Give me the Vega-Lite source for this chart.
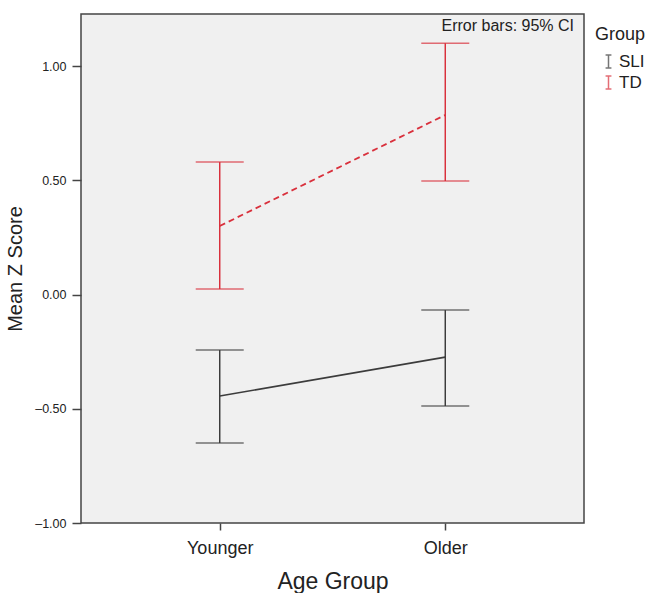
{
  "$schema": "https://vega.github.io/schema/vega-lite/v6.json",
  "autosize": {"type": "none"},
  "padding": {"left": 81, "top": 14, "right": 65, "bottom": 70},
  "width": 503,
  "height": 509,
  "background": "white",
  "config": {
    "font": "Liberation Sans",
    "view": {"fill": "#f0f0f0", "stroke": "#444444", "strokeWidth": 1.5},
    "axis": {"domain": false, "grid": false, "tickColor": "#444444", "tickWidth": 1.5, "labelColor": "#222222", "titleColor": "#222222", "titleFontWeight": "normal"}
  },
  "title": {"text": "Error bars: 95% CI", "anchor": "end", "frame": "group", "orient": "top", "offset": -20, "dx": -10, "fontSize": 16, "fontWeight": "normal", "color": "#222222", "font": "Liberation Sans"},
  "data": {"values": [
    {"age": "Younger", "group": "SLI", "mean": -0.444, "lo": -0.650, "hi": -0.243},
    {"age": "Older", "group": "SLI", "mean": -0.274, "lo": -0.488, "hi": -0.068},
    {"age": "Younger", "group": "TD", "mean": 0.30, "lo": 0.024, "hi": 0.580},
    {"age": "Older", "group": "TD", "mean": 0.786, "lo": 0.497, "hi": 1.100}
  ]},
  "encoding": {
    "x": {"field": "age", "type": "nominal", "sort": ["Younger", "Older"],
      "scale": {"type": "point", "padding": 0.615},
      "axis": {"title": "Age Group", "titleFontSize": 23, "titlePadding": 13, "labelFontSize": 18, "labelAngle": 0, "tickSize": 7, "labelPadding": 9}}
  },
  "layer": [
    {
      "mark": {"type": "rule", "strokeWidth": 1.5},
      "encoding": {
        "y": {"field": "lo", "type": "quantitative",
          "scale": {"domain": [-1, 1.228], "nice": false, "zero": false},
          "axis": {"title": "Mean Z Score", "titleFontSize": 20, "titlePadding": 9, "labelFontSize": 12.5, "labelExpr": "(datum.value < 0 ? '\u2013' : '') + format(abs(datum.value), '.2f')", "values": [-1, -0.5, 0, 0.5, 1], "tickSize": 9, "labelPadding": 6}},
        "y2": {"field": "hi"},
        "color": {"field": "group", "type": "nominal",
          "scale": {"domain": ["SLI", "TD"], "range": ["#3c3c3c", "#d9303c"]},
          "legend": {"orient": "none", "legendX": 514, "legendY": 12, "title": "Group", "titleFontSize": 18, "titleFontWeight": "normal", "labelFontSize": 17, "symbolType": "M-0.45,-1H0.45M0,-1V1M-0.45,1H0.45", "symbolSize": 169, "symbolStrokeWidth": 1.5, "symbolFillColor": "transparent", "symbolDash": [1, 0], "symbolOffset": 5, "rowPadding": 2, "titlePadding": 9, "labelOffset": 2, "labelColor": "#222222", "titleColor": "#222222"}}
      }
    },
    {
      "mark": {"type": "tick", "size": 48, "thickness": 1.5, "orient": "horizontal"},
      "encoding": {"y": {"field": "lo", "type": "quantitative"}, "color": {"field": "group", "type": "nominal"}}
    },
    {
      "mark": {"type": "tick", "size": 48, "thickness": 1.5, "orient": "horizontal"},
      "encoding": {"y": {"field": "hi", "type": "quantitative"}, "color": {"field": "group", "type": "nominal"}}
    },
    {
      "transform": [{"filter": "datum.group === 'SLI'"}],
      "mark": {"type": "line", "strokeWidth": 1.6, "color": "#3c3c3c"},
      "encoding": {"y": {"field": "mean", "type": "quantitative"}}
    },
    {
      "transform": [{"filter": "datum.group === 'TD'"}],
      "mark": {"type": "line", "strokeWidth": 1.8, "color": "#d9303c", "strokeDash": [6, 4]},
      "encoding": {"y": {"field": "mean", "type": "quantitative"}}
    }
  ]
}
